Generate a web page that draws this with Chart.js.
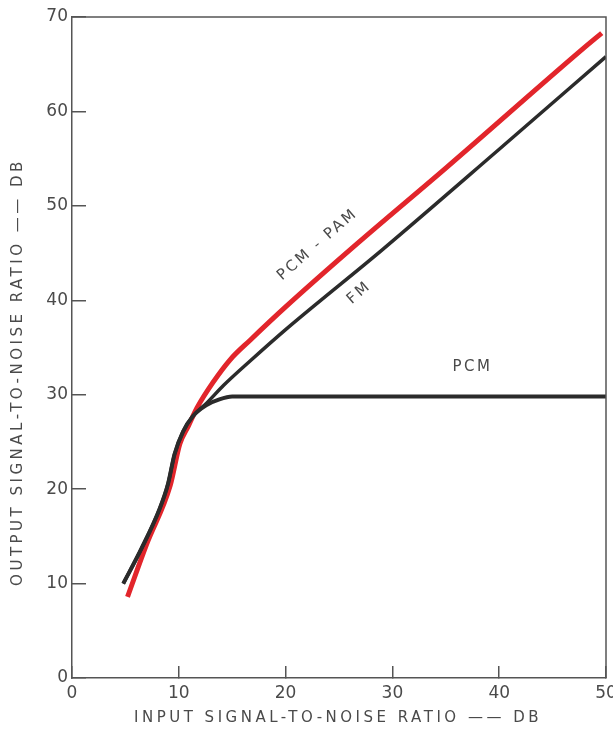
<!DOCTYPE html>
<html>
<head>
<meta charset="utf-8">
<script src="https://cdn.jsdelivr.net/npm/chart.js@4.4.1/dist/chart.umd.min.js"></script>
<style>
  html, body { margin: 0; padding: 0; background: #ffffff; }
  #wrap { width: 613px; height: 731px; position: relative; }
</style>
</head>
<body>
<div id="wrap"><canvas id="grafico"></canvas></div>
<script>
// Valores (entrada dB -> salida dB)
const pcmPamX = [5.2, 7.0, 9.2, 10.1, 10.9, 11.7, 13.2, 14.8, 16.7, 20, 26.7, 35, 47.8, 49.6];
const pcmPamY = [8.6, 14.2, 20.4, 24.8, 26.7, 28.6, 31.3, 33.7, 35.8, 39.3, 46.0, 54.0, 66.6, 68.3];

const fmX = [4.8, 6.5, 8.2, 9.0, 9.6, 10.4, 11.3, 12.6, 14.2, 16.7, 20, 29.1, 40, 50];
const fmY = [10.0, 13.7, 17.9, 20.6, 23.7, 26.1, 27.7, 29.1, 31.0, 33.6, 36.9, 45.4, 56.0, 65.8];

const pcmX = [4.8, 6.5, 8.2, 9.0, 9.6, 10.4, 11.3, 12.6, 13.8, 15, 20, 30, 40, 50];
const pcmY = [10.0, 13.7, 17.9, 20.6, 23.7, 26.1, 27.7, 28.9, 29.5, 29.8, 29.8, 29.8, 29.8, 29.8];

// Ejes
const xMin = 0, xMax = 50, xStep = 10;
const yMin = 0, yMax = 70, yStep = 10;
const xTitle = "INPUT SIGNAL-TO-NOISE RATIO —— DB";
const yTitle = "OUTPUT SIGNAL-TO-NOISE RATIO —— DB";

// Etiquetas sobre las curvas
const labelText = ["PCM - PAM", "FM", "PCM"];
const labelX = [23.0, 26.9, 37.5];
const labelY = [45.9, 40.8, 32.9];
const labelAngle = [-41, -41, 0];

const FONT = "'DejaVu Sans', sans-serif";
const GRIS = "#4a4a4a";

function puntos(xs, ys) {
  return xs.map(function (x, i) { return { x: x, y: ys[i] }; });
}

// Marco superior y derecho + títulos y etiquetas
const marcoPlugin = {
  id: "marco",
  afterDraw: function (chart) {
    const ctx = chart.ctx;
    const a = chart.chartArea;
    ctx.save();
    ctx.strokeStyle = "#555";
    ctx.lineWidth = 1.5;
    ctx.beginPath();
    ctx.moveTo(a.left, a.top);
    ctx.lineTo(a.right, a.top);
    ctx.lineTo(a.right, a.bottom);
    ctx.stroke();

    ctx.fillStyle = GRIS;
    ctx.font = "15px " + FONT;
    ctx.letterSpacing = "3.5px";
    ctx.textAlign = "center";
    ctx.textBaseline = "middle";
    // título eje x
    ctx.fillText(xTitle, 338, 718);
    // título eje y
    ctx.save();
    ctx.translate(18, 372);
    ctx.rotate(-Math.PI / 2);
    ctx.fillText(yTitle, 0, 0);
    ctx.restore();

    // etiquetas de curvas
    const sx = chart.scales.x, sy = chart.scales.y;
    ctx.font = "15px " + FONT;
    ctx.letterSpacing = "2.5px";
    labelText.forEach(function (t, i) {
      ctx.save();
      ctx.translate(sx.getPixelForValue(labelX[i]), sy.getPixelForValue(labelY[i]));
      ctx.rotate(labelAngle[i] * Math.PI / 180);
      ctx.fillText(t, 0, 0);
      ctx.restore();
    });
    ctx.restore();
  }
};

const ctx = document.getElementById("grafico").getContext("2d");
const grafico = new Chart(ctx, {
  type: "line",
  data: {
    datasets: [
      {
        label: "PCM",
        data: puntos(pcmX, pcmY),
        borderColor: "#2b2b2b",
        borderWidth: 4,
      },
      {
        label: "FM",
        data: puntos(fmX, fmY),
        borderColor: "#2b2b2b",
        borderWidth: 3.5,
      },
      {
        label: "PCM - PAM",
        data: puntos(pcmPamX, pcmPamY),
        borderColor: "#e2252b",
        borderWidth: 5,
      },
    ],
  },
  options: {
    responsive: true,
    maintainAspectRatio: false,
    animation: false,
    layout: { padding: { top: 17, right: 7, left: 0, bottom: 0 } },
    elements: {
      point: { radius: 0 },
      line: { cubicInterpolationMode: "monotone", fill: false, borderCapStyle: "butt" },
    },
    plugins: {
      legend: { display: false },
      tooltip: { enabled: false },
    },
    scales: {
      x: {
        type: "linear",
        min: xMin,
        max: xMax,
        ticks: { stepSize: xStep, color: GRIS, padding: 17, font: { family: FONT, size: 17 } },
        grid: { drawOnChartArea: false, tickLength: -12, color: "#555", lineWidth: 1.5 },
        border: { display: true, color: "#555", width: 1.5 },
        afterFit: function (scale) {
          scale.height = 53;
          scale.paddingLeft = 0;
          scale.paddingRight = 0;
        },
      },
      y: {
        type: "linear",
        min: yMin,
        max: yMax,
        ticks: { stepSize: yStep, color: GRIS, padding: 18, font: { family: FONT, size: 17 } },
        grid: { drawOnChartArea: false, tickLength: -14, color: "#555", lineWidth: 1.5 },
        border: { display: true, color: "#555", width: 1.5 },
        afterFit: function (scale) {
          scale.width = 72;
          scale.paddingTop = 0;
          scale.paddingBottom = 0;
        },
      },
    },
  },
  plugins: [marcoPlugin],
});
</script>
</body>
</html>
